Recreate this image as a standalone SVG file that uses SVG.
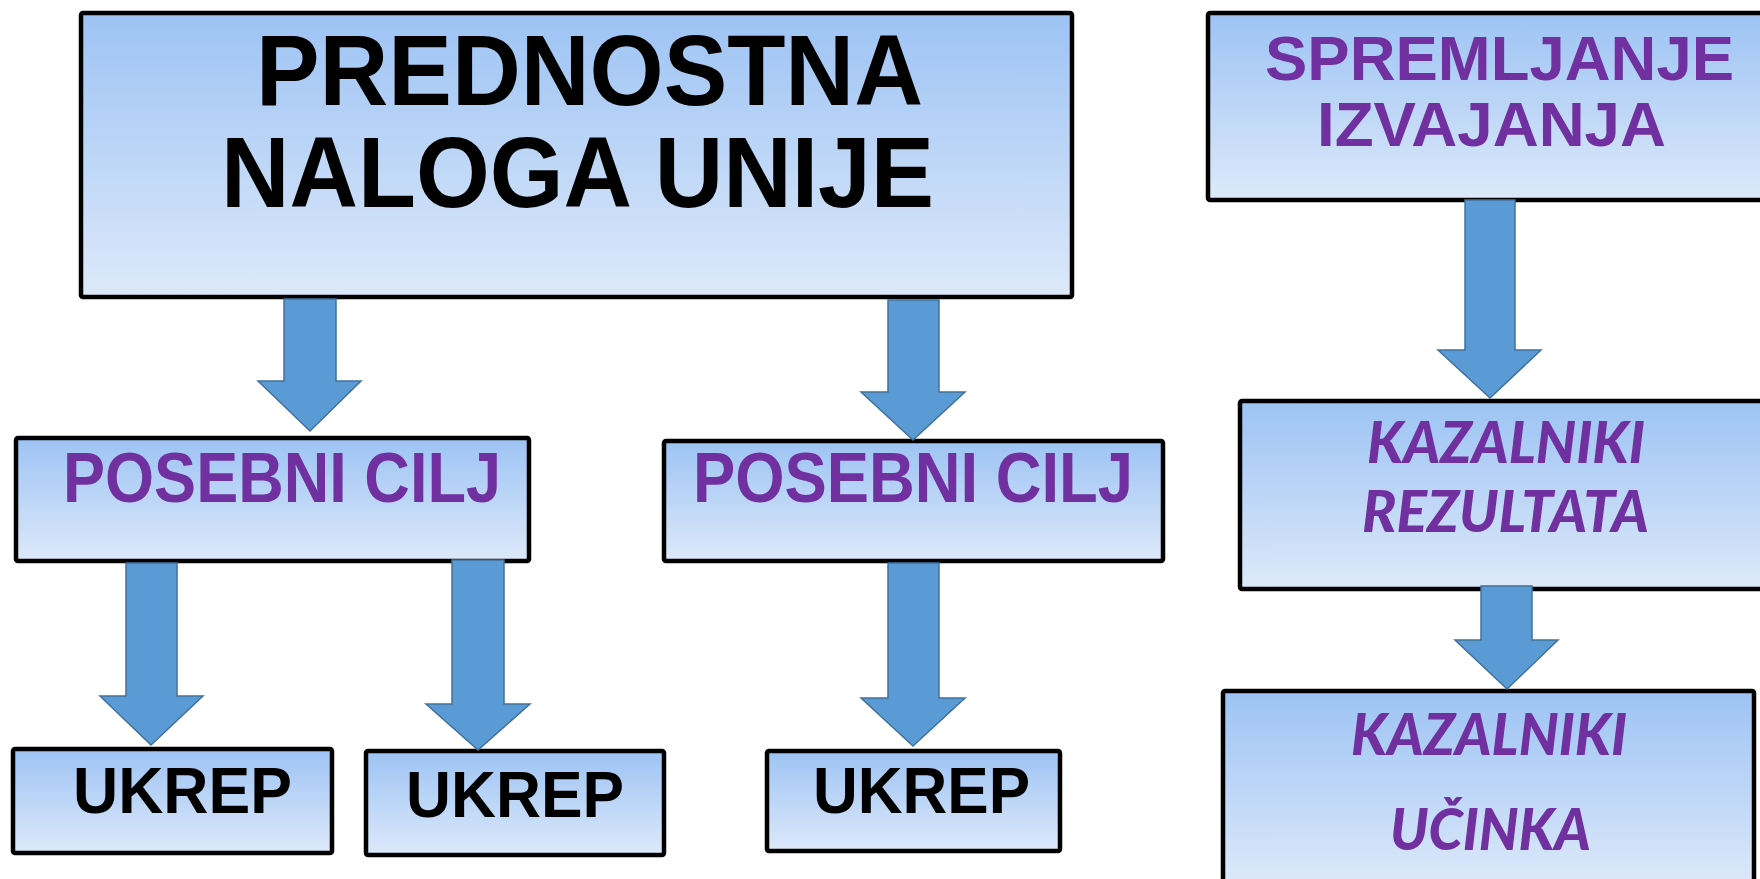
<svg xmlns="http://www.w3.org/2000/svg" width="1760" height="879" viewBox="0 0 1760 879">
<defs>
<linearGradient id="bg" x1="0" y1="0" x2="0" y2="1">
<stop offset="0" stop-color="#9DC3F4"/>
<stop offset="1" stop-color="#DDE9FA"/>
</linearGradient>
<style>
.box{fill:url(#bg);stroke:#000;stroke-width:4.5}
.arr{fill:#5B9BD5;stroke:#41719C;stroke-width:1.5}
.t{font-family:"Liberation Sans",Arial,sans-serif;font-weight:bold}
.k{fill:#000}
.p{fill:#7030A0}
.i{font-family:Lato,"Open Sans",sans-serif;font-weight:900;font-style:italic;fill:#7030A0}
</style>
</defs>
<rect width="1760" height="879" fill="#fff"/>
<g id="prednostna">
<rect class="box" x="81" y="13" width="991" height="284" rx="2"/>
<text class="t k" x="256" y="105" font-size="100" textLength="667" lengthAdjust="spacingAndGlyphs">PREDNOSTNA</text>
<text class="t k" x="221" y="207" font-size="100" textLength="713" lengthAdjust="spacingAndGlyphs">NALOGA UNIJE</text>
</g>
<g id="spremljanje">
<rect class="box" x="1208" y="13" width="560" height="187" rx="2"/>
<text class="t p" x="1265" y="80" font-size="63" textLength="469" lengthAdjust="spacingAndGlyphs">SPREMLJANJE</text>
<text class="t p" x="1317" y="146" font-size="63" textLength="349" lengthAdjust="spacingAndGlyphs">IZVAJANJA</text>
</g>
<g id="kazalniki-rezultata">
<rect class="box" x="1240" y="401" width="528" height="188" rx="2"/>
<text class="i" x="1367" y="463" font-size="58" textLength="278" lengthAdjust="spacingAndGlyphs">KAZALNIKI</text>
<text class="i" x="1362" y="532" font-size="58" textLength="287" lengthAdjust="spacingAndGlyphs">REZULTATA</text>
</g>
<g id="kazalniki-ucinka">
<rect class="box" x="1223" y="691" width="531" height="195" rx="2"/>
<text class="i" x="1351" y="755" font-size="58" textLength="276" lengthAdjust="spacingAndGlyphs">KAZALNIKI</text>
<text class="i" x="1390" y="850" font-size="58" textLength="201" lengthAdjust="spacingAndGlyphs">UČINKA</text>
</g>
<g id="posebni-cilj-1">
<rect class="box" x="16" y="438" width="513" height="123" rx="2"/>
<text class="t p" x="63" y="502" font-size="70" textLength="438" lengthAdjust="spacingAndGlyphs">POSEBNI CILJ</text>
</g>
<g id="posebni-cilj-2">
<rect class="box" x="664" y="441" width="499" height="120" rx="2"/>
<text class="t p" x="693" y="502" font-size="70" textLength="440" lengthAdjust="spacingAndGlyphs">POSEBNI CILJ</text>
</g>
<g id="ukrep-1">
<rect class="box" x="13" y="749" width="319" height="104" rx="2"/>
<text class="t k" x="73" y="813" font-size="64" textLength="219" lengthAdjust="spacingAndGlyphs">UKREP</text>
</g>
<g id="ukrep-2">
<rect class="box" x="366" y="751" width="298" height="104" rx="2"/>
<text class="t k" x="406" y="817" font-size="64" textLength="218" lengthAdjust="spacingAndGlyphs">UKREP</text>
</g>
<g id="ukrep-3">
<rect class="box" x="767" y="751" width="293" height="100" rx="2"/>
<text class="t k" x="813" y="813" font-size="64" textLength="217" lengthAdjust="spacingAndGlyphs">UKREP</text>
</g>
<g id="connectors">
<polygon class="arr" points="284,299 336,299 336,381 361,381 310,431 258,381 284,381"/>
<polygon class="arr" points="888,300 939,300 939,392 965,392 913,440 861,392 888,392"/>
<polygon class="arr" points="1465,200 1515,200 1515,350 1541,350 1490,398 1438,350 1465,350"/>
<polygon class="arr" points="1481,586 1532,586 1532,640 1558,640 1507,689 1455,640 1481,640"/>
<polygon class="arr" points="126,563 177,563 177,696 203,696 151,745 100,696 126,696"/>
<polygon class="arr" points="452,560 504,560 504,704 530,704 478,750 426,704 452,704"/>
<polygon class="arr" points="888,563 939,563 939,698 965,698 913,746 861,698 888,698"/>
</g>
</svg>
